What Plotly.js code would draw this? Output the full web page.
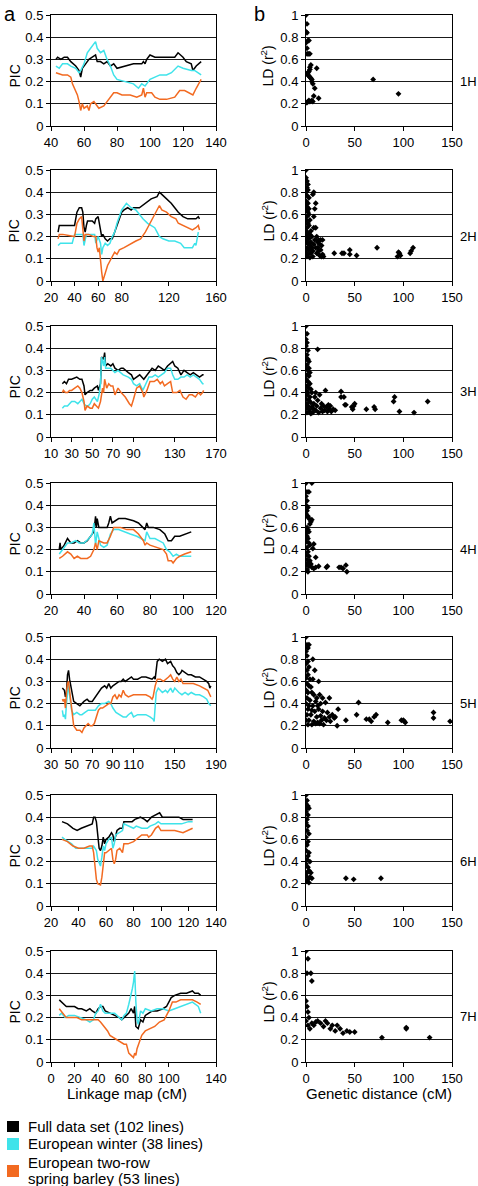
<!DOCTYPE html>
<html><head><meta charset="utf-8">
<script src="https://cdn.plot.ly/plotly-3.0.1.min.js"></script>
<style>html,body{margin:0;padding:0;background:#fff}#chart{width:478px;height:1186px}</style>
</head><body><div id="chart"></div>
<script>
// ---------- DATA: PIC along linkage map (panel a) ----------
const chromosomes = ['1H','2H','3H','4H','5H','6H','7H'];
const seriesNames = ['Full data set (102 lines)','European winter (38 lines)','European two-row','spring barley (53 lines)'];

const full1H_x = [43,44,46,48,50,52,55,57,58,59,61,63,65,67,68,70,72,74,76,78,80,85,90,95,96,97,98,100,103,110,115,117,120,122,125,126,128,131];
const full1H_y = [0.30,0.31,0.30,0.31,0.31,0.29,0.27,0.25,0.22,0.26,0.28,0.30,0.31,0.32,0.29,0.29,0.28,0.29,0.27,0.28,0.26,0.27,0.28,0.28,0.29,0.28,0.30,0.32,0.31,0.31,0.31,0.33,0.31,0.29,0.28,0.25,0.27,0.29];
const win1H_x = [43,45,47,50,52,55,57,58,60,62,64,66,67,68,70,72,74,76,78,80,85,90,93,95,97,100,103,106,110,113,117,120,125,127,129,131];
const win1H_y = [0.27,0.26,0.28,0.28,0.27,0.26,0.24,0.25,0.28,0.33,0.35,0.37,0.38,0.35,0.33,0.34,0.30,0.27,0.23,0.21,0.20,0.19,0.17,0.19,0.18,0.21,0.22,0.23,0.23,0.24,0.27,0.26,0.25,0.25,0.24,0.23];
const spr1H_x = [43,47,50,52,53,55,56,57,58,59,60,62,63,64,66,67,69,72,75,78,80,83,88,92,95,96,97,98,101,103,106,110,115,118,121,124,126,128,131];
const spr1H_y = [0.24,0.23,0.23,0.22,0.19,0.16,0.14,0.11,0.07,0.10,0.08,0.09,0.07,0.10,0.11,0.10,0.08,0.09,0.12,0.15,0.15,0.14,0.14,0.13,0.14,0.17,0.13,0.15,0.15,0.13,0.12,0.12,0.13,0.16,0.16,0.15,0.14,0.17,0.21];

const full2H_x = [26,27,30,38,40,42,44,46,47,48,49,50,51,55,57,58,60,62,63,64,66,68,70,72,74,76,78,80,82,85,88,90,95,100,105,110,112,114,116,118,122,125,128,132,136,140,143,145,146];
const full2H_y = [0.22,0.25,0.25,0.25,0.25,0.31,0.33,0.33,0.31,0.24,0.22,0.25,0.27,0.27,0.26,0.28,0.29,0.23,0.20,0.21,0.19,0.18,0.19,0.19,0.22,0.25,0.28,0.31,0.32,0.33,0.32,0.33,0.33,0.35,0.37,0.38,0.40,0.39,0.38,0.37,0.35,0.33,0.31,0.29,0.28,0.28,0.28,0.29,0.28];
const win2H_x = [26,28,35,38,40,45,47,48,50,55,57,58,60,62,63,64,66,68,70,72,74,76,78,80,84,86,88,92,95,98,102,105,108,110,112,115,120,125,130,133,137,140,142,143,145];
const win2H_y = [0.16,0.17,0.17,0.17,0.21,0.21,0.21,0.16,0.21,0.21,0.21,0.17,0.20,0.17,0.12,0.15,0.17,0.16,0.17,0.20,0.22,0.26,0.29,0.32,0.35,0.34,0.33,0.32,0.30,0.28,0.26,0.25,0.24,0.22,0.20,0.19,0.18,0.18,0.17,0.15,0.15,0.15,0.17,0.16,0.22];
const spr2H_x = [26,27,30,38,40,42,44,46,47,48,49,52,56,58,59,60,61,62,63,64,66,68,70,72,74,76,78,82,85,88,92,96,100,103,106,108,112,114,118,122,126,128,132,136,140,143,145,146];
const spr2H_y = [0.19,0.21,0.21,0.20,0.20,0.26,0.28,0.29,0.24,0.18,0.21,0.21,0.20,0.20,0.15,0.13,0.15,0.08,0.04,0.00,0.04,0.07,0.09,0.11,0.13,0.12,0.14,0.15,0.16,0.17,0.18,0.19,0.22,0.25,0.28,0.30,0.34,0.32,0.31,0.29,0.28,0.26,0.25,0.24,0.23,0.24,0.25,0.23];

const full3H_x = [21,23,25,27,30,35,38,40,42,43,45,48,50,52,55,56,58,59,61,62,63,65,68,70,72,75,78,80,85,88,90,93,96,100,103,106,108,111,114,117,120,123,126,128,130,133,136,139,142,145,148,151,154,157,158];
const full3H_y = [0.24,0.25,0.24,0.26,0.26,0.27,0.26,0.26,0.23,0.19,0.20,0.21,0.21,0.22,0.23,0.21,0.24,0.36,0.35,0.38,0.32,0.33,0.32,0.33,0.31,0.30,0.31,0.31,0.29,0.28,0.26,0.27,0.28,0.26,0.28,0.30,0.31,0.30,0.32,0.31,0.30,0.32,0.33,0.34,0.32,0.31,0.28,0.30,0.29,0.28,0.29,0.28,0.27,0.28,0.28];
const win3H_x = [21,23,26,28,30,33,36,38,40,42,44,46,48,50,52,55,57,58,59,61,62,63,65,68,70,72,75,78,80,85,88,90,93,96,99,102,105,108,111,114,117,120,123,126,128,130,133,136,139,142,145,148,151,154,157,158];
const win3H_y = [0.13,0.14,0.14,0.15,0.16,0.16,0.15,0.16,0.17,0.15,0.14,0.14,0.15,0.17,0.18,0.16,0.20,0.24,0.36,0.32,0.36,0.31,0.31,0.31,0.30,0.29,0.30,0.29,0.28,0.27,0.26,0.24,0.23,0.24,0.21,0.24,0.27,0.27,0.28,0.27,0.28,0.29,0.31,0.31,0.28,0.26,0.26,0.27,0.27,0.28,0.27,0.28,0.27,0.26,0.24,0.24];
const spr3H_x = [21,22,24,26,28,30,33,36,38,40,42,43,45,48,50,52,54,56,58,60,61,62,64,66,68,70,72,75,78,82,86,88,90,93,96,99,100,103,106,110,113,116,118,120,123,126,128,132,135,138,141,144,147,150,153,155,157,158];
const spr3H_y = [0.20,0.21,0.20,0.20,0.21,0.21,0.22,0.23,0.22,0.20,0.16,0.12,0.14,0.13,0.13,0.15,0.14,0.13,0.16,0.22,0.20,0.26,0.22,0.24,0.23,0.23,0.19,0.22,0.20,0.18,0.15,0.14,0.17,0.22,0.23,0.20,0.18,0.21,0.25,0.25,0.26,0.24,0.25,0.23,0.24,0.25,0.20,0.20,0.21,0.18,0.17,0.19,0.19,0.18,0.20,0.19,0.20,0.21];

const full4H_x = [25,25.5,26,28,30,32,34,36,38,40,42,44,46,47,47.5,48,49,52,54,55,56,57,59,61,65,70,73,76,77,78,79,82,86,89,91,93,95,98,101,105];
const full4H_y = [0.20,0.23,0.20,0.22,0.25,0.23,0.23,0.24,0.23,0.23,0.24,0.26,0.28,0.35,0.30,0.34,0.30,0.30,0.30,0.32,0.35,0.32,0.33,0.34,0.34,0.33,0.32,0.30,0.29,0.32,0.30,0.30,0.29,0.27,0.24,0.24,0.26,0.26,0.27,0.28];
const win4H_x = [25,27,30,32,35,37,40,43,45,46,47,48,50,52,54,56,58,61,64,68,72,75,77,78,80,83,86,88,90,92,94,96,98,101,105];
const win4H_y = [0.18,0.20,0.23,0.23,0.24,0.23,0.23,0.25,0.27,0.32,0.22,0.28,0.22,0.21,0.22,0.27,0.29,0.29,0.28,0.27,0.26,0.25,0.24,0.28,0.25,0.25,0.24,0.23,0.20,0.19,0.17,0.18,0.17,0.17,0.17];
const spr4H_x = [25,27,30,32,34,36,38,42,44,46,47,48,49,52,54,56,58,62,66,70,73,76,77,78,80,84,88,90,91,93,94,96,98,101,105];
const spr4H_y = [0.16,0.17,0.19,0.18,0.16,0.17,0.16,0.16,0.17,0.20,0.23,0.20,0.24,0.23,0.23,0.26,0.30,0.30,0.29,0.29,0.27,0.24,0.22,0.23,0.22,0.21,0.20,0.18,0.15,0.15,0.14,0.16,0.17,0.18,0.19];

const full5H_x = [41,43,44,45,46,47,48,49,50,52,55,58,60,62,65,67,70,73,76,79,82,84,86,88,90,93,96,98,100,102,105,108,110,114,118,122,128,130,131,132,133,135,138,141,143,146,148,150,152,154,156,157,160,163,166,170,174,178,181,183,184,185];
const full5H_y = [0.27,0.26,0.23,0.25,0.33,0.35,0.31,0.28,0.25,0.21,0.20,0.19,0.20,0.21,0.22,0.21,0.21,0.23,0.25,0.27,0.28,0.27,0.29,0.27,0.28,0.29,0.30,0.30,0.31,0.30,0.31,0.32,0.31,0.31,0.32,0.32,0.31,0.32,0.31,0.36,0.39,0.40,0.39,0.40,0.38,0.39,0.37,0.36,0.34,0.33,0.34,0.35,0.34,0.33,0.33,0.32,0.32,0.31,0.30,0.29,0.27,0.28];
const win5H_x = [41,42,43,44,45,46,47,48,49,50,52,55,58,60,63,66,70,73,76,79,82,86,88,90,93,96,100,103,105,108,110,114,118,122,126,129,130,131,132,134,136,138,141,143,146,148,150,152,154,157,160,163,166,170,174,178,181,183,185];
const win5H_y = [0.17,0.14,0.15,0.13,0.20,0.25,0.29,0.24,0.21,0.17,0.15,0.16,0.15,0.15,0.16,0.17,0.17,0.17,0.19,0.20,0.20,0.21,0.20,0.18,0.16,0.15,0.14,0.14,0.15,0.16,0.14,0.15,0.15,0.15,0.14,0.13,0.12,0.17,0.25,0.27,0.26,0.25,0.26,0.25,0.27,0.25,0.27,0.26,0.25,0.24,0.25,0.24,0.25,0.24,0.24,0.23,0.22,0.20,0.19];
const spr5H_x = [41,42,43,44,45,46,47,48,49,50,52,55,58,60,62,64,66,68,70,72,74,76,78,80,83,86,88,90,92,94,96,98,100,102,105,110,116,122,126,128,129,131,133,136,139,142,144,146,148,150,152,154,156,158,162,168,174,178,182,184,185];
const spr5H_y = [0.22,0.21,0.22,0.18,0.25,0.29,0.30,0.26,0.21,0.16,0.10,0.08,0.08,0.07,0.09,0.10,0.11,0.10,0.10,0.11,0.14,0.17,0.18,0.18,0.19,0.20,0.20,0.23,0.24,0.22,0.24,0.23,0.26,0.24,0.23,0.24,0.24,0.24,0.23,0.22,0.23,0.28,0.31,0.31,0.30,0.31,0.32,0.33,0.31,0.30,0.32,0.30,0.31,0.29,0.29,0.29,0.28,0.27,0.26,0.24,0.23];

const full6H_x = [28,32,36,39,42,46,50,51,52,53,54,55,56,57,58,59,60,62,64,65,66,68,70,72,73,75,79,81,85,88,90,93,96,99,101,105,110,113,116,120,123];
const full6H_y = [0.38,0.37,0.35,0.34,0.35,0.36,0.37,0.40,0.40,0.38,0.31,0.26,0.25,0.27,0.31,0.28,0.30,0.31,0.33,0.32,0.29,0.34,0.35,0.35,0.38,0.38,0.38,0.39,0.40,0.39,0.38,0.40,0.41,0.42,0.40,0.40,0.40,0.40,0.39,0.39,0.39];
const win6H_x = [28,30,35,38,40,44,48,50,51,53,54,55,56,57,58,59,60,62,64,65,66,67,70,72,73,76,80,82,86,90,92,96,98,100,104,110,115,120,123];
const win6H_y = [0.31,0.30,0.28,0.26,0.26,0.26,0.26,0.26,0.27,0.25,0.21,0.19,0.18,0.22,0.27,0.25,0.28,0.30,0.31,0.26,0.28,0.32,0.33,0.34,0.37,0.36,0.35,0.36,0.35,0.35,0.36,0.37,0.38,0.37,0.37,0.37,0.37,0.38,0.38];
const spr6H_x = [28,32,36,40,44,48,50,51,52,53,54,56,57,58,59,60,62,64,65,66,67,68,70,72,73,76,80,82,86,90,91,93,96,98,100,105,110,116,120,123];
const spr6H_y = [0.30,0.29,0.27,0.26,0.26,0.27,0.27,0.24,0.18,0.12,0.10,0.095,0.13,0.18,0.24,0.24,0.25,0.26,0.21,0.19,0.21,0.25,0.26,0.24,0.28,0.28,0.29,0.30,0.32,0.32,0.31,0.32,0.35,0.36,0.34,0.34,0.34,0.33,0.34,0.35];

const full7H_x = [7,9,11,13,17,20,23,26,30,33,35,38,40,42,44,46,50,54,58,60,62,64,66,68,70,71,72,74,76,78,80,83,86,90,95,98,100,102,105,110,115,120,122,125,127];
const full7H_y = [0.28,0.27,0.26,0.25,0.25,0.25,0.24,0.24,0.23,0.24,0.23,0.22,0.24,0.25,0.25,0.23,0.22,0.21,0.20,0.19,0.20,0.21,0.22,0.24,0.22,0.25,0.16,0.15,0.19,0.18,0.21,0.22,0.23,0.23,0.24,0.25,0.27,0.29,0.30,0.31,0.31,0.32,0.31,0.31,0.30];
const win7H_x = [7,9,12,15,20,25,30,33,36,38,40,42,44,46,50,54,58,60,62,64,66,67,68,69,70,71,72,73,74,76,78,80,85,90,95,100,105,110,115,120,125,127];
const win7H_y = [0.21,0.22,0.20,0.21,0.21,0.20,0.19,0.18,0.19,0.22,0.23,0.26,0.23,0.22,0.22,0.22,0.20,0.19,0.21,0.22,0.26,0.28,0.30,0.33,0.36,0.41,0.27,0.19,0.17,0.23,0.22,0.24,0.23,0.24,0.24,0.23,0.24,0.25,0.26,0.27,0.25,0.22];
const spr7H_x = [7,10,13,17,22,26,30,35,38,40,42,45,48,50,53,56,60,62,64,66,68,70,71,72,73,75,77,80,84,88,92,96,100,103,106,110,115,120,124,127];
const spr7H_y = [0.24,0.22,0.20,0.20,0.20,0.19,0.19,0.19,0.19,0.19,0.18,0.16,0.14,0.12,0.11,0.10,0.09,0.08,0.08,0.04,0.03,0.02,0.04,0.03,0.06,0.09,0.12,0.14,0.15,0.16,0.18,0.19,0.23,0.27,0.27,0.28,0.28,0.28,0.27,0.26];

// ---------- DATA: LD (r^2) vs genetic distance (panel b) ----------
const ld1H_x = [0,1,0,1,0,2,3,1,1,2,3,4,5,4,4,3,2,1,2,3,4,5,6,6,7,11,9,8,13,6,3,2,0,1,4,7,69,95];
const ld1H_y = [1.0,0.92,0.85,0.84,0.75,0.77,0.77,0.70,0.65,0.65,0.65,0.65,0.55,0.53,0.51,0.49,0.48,0.47,0.46,0.45,0.44,0.43,0.42,0.40,0.38,0.52,0.34,0.27,0.25,0.23,0.23,0.22,0.21,0.21,0.22,0.22,0.42,0.29];
const ld2H_x = [0,0,1,2,1,2,0,1,3,0,2,1,0,2,3,1,0,2,3,1,0,2,4,1,3,0,2,4,1,3,0,2,1,4,5,5,6,6,7,7,8,8,7,10,9,8,8,10,11,9,10,11,12,12,13,13,14,14,15,15,16,16,17,17,18,5,4,3,29,37,39,45,45,52,73,94,95,96,97,107,108,110];
const ld2H_y = [1.0,0.93,0.90,0.87,0.84,0.82,0.80,0.77,0.75,0.72,0.70,0.67,0.64,0.62,0.60,0.58,0.55,0.52,0.50,0.48,0.45,0.43,0.42,0.40,0.38,0.36,0.34,0.32,0.30,0.28,0.26,0.24,0.22,0.21,0.25,0.35,0.30,0.40,0.27,0.22,0.33,0.80,0.78,0.70,0.65,0.58,0.48,0.48,0.40,0.37,0.30,0.25,0.35,0.30,0.37,0.27,0.33,0.23,0.37,0.28,0.32,0.22,0.37,0.24,0.22,0.45,0.55,0.65,0.25,0.25,0.25,0.28,0.24,0.23,0.30,0.22,0.26,0.25,0.23,0.25,0.27,0.30];
const ld3H_x = [0,1,0,1,0,2,1,0,2,3,1,0,3,2,4,1,3,0,2,4,1,3,5,0,2,6,1,4,0,3,5,1,2,6,0,3,4,1,5,7,8,8,9,10,10,11,12,12,13,14,15,16,17,18,19,20,21,22,23,24,25,26,28,30,36,36,39,40,41,47,48,49,50,62,70,71,90,91,96,111,125];
const ld3H_y = [1.0,0.93,0.88,0.85,0.82,0.78,0.74,0.70,0.70,0.68,0.65,0.62,0.62,0.60,0.58,0.56,0.55,0.52,0.50,0.48,0.46,0.44,0.43,0.42,0.40,0.40,0.38,0.36,0.34,0.33,0.31,0.30,0.28,0.27,0.26,0.25,0.23,0.22,0.21,0.22,0.25,0.30,0.36,0.24,0.40,0.28,0.79,0.33,0.22,0.38,0.26,0.30,0.23,0.28,0.24,0.42,0.27,0.23,0.29,0.25,0.28,0.23,0.25,0.24,0.41,0.36,0.36,0.29,0.29,0.27,0.25,0.28,0.30,0.25,0.27,0.25,0.32,0.36,0.23,0.22,0.32];
const ld4H_x = [0,6,1,3,0,1,0,2,1,0,2,3,6,5,4,1,2,3,0,1,2,0,3,4,8,1,7,2,0,3,10,1,4,2,5,0,3,6,1,8,13,10,2,21,22,34,36,38,41,42];
const ld4H_y = [1.0,1.0,0.92,0.92,0.88,0.84,0.80,0.78,0.75,0.72,0.70,0.68,0.67,0.65,0.63,0.60,0.58,0.56,0.55,0.52,0.50,0.47,0.46,0.44,0.45,0.42,0.41,0.38,0.35,0.34,0.33,0.31,0.30,0.28,0.27,0.26,0.25,0.24,0.22,0.23,0.25,0.24,0.20,0.24,0.25,0.24,0.24,0.23,0.26,0.20];
const ld5H_x = [0,1,3,2,0,1,7,2,0,3,1,9,2,0,4,7,13,1,3,5,0,2,6,8,11,14,17,24,1,4,10,0,3,7,12,15,20,2,6,9,13,17,22,27,1,5,11,15,19,24,29,0,3,8,12,16,21,25,30,2,6,10,14,18,33,32,41,52,54,62,65,67,70,72,84,98,100,101,102,131,131,148];
const ld5H_y = [1.0,0.93,0.93,0.90,0.87,0.83,0.80,0.78,0.76,0.73,0.70,0.70,0.66,0.63,0.62,0.62,0.60,0.58,0.56,0.55,0.52,0.50,0.50,0.48,0.45,0.48,0.45,0.45,0.45,0.43,0.42,0.40,0.38,0.38,0.38,0.40,0.41,0.35,0.34,0.33,0.35,0.33,0.32,0.30,0.30,0.30,0.28,0.29,0.27,0.28,0.27,0.25,0.25,0.24,0.23,0.25,0.25,0.24,0.28,0.21,0.21,0.22,0.22,0.21,0.35,0.20,0.25,0.30,0.41,0.26,0.26,0.24,0.28,0.30,0.23,0.25,0.25,0.24,0.23,0.32,0.27,0.24];
const ld6H_x = [0,1,0,2,1,3,0,2,1,0,2,1,3,0,2,1,0,3,2,1,4,0,2,3,1,5,0,4,2,6,1,3,41,49,77];
const ld6H_y = [1.0,0.95,0.92,0.90,0.88,0.88,0.85,0.82,0.78,0.75,0.72,0.68,0.65,0.62,0.58,0.55,0.50,0.48,0.45,0.42,0.40,0.38,0.35,0.32,0.30,0.30,0.27,0.26,0.24,0.25,0.22,0.21,0.25,0.24,0.25];
const ld7H_x = [0,2,1,5,6,0,1,2,3,0,2,4,6,8,10,12,15,18,20,22,25,27,30,32,35,38,42,45,50,78,103,103,127];
const ld7H_y = [1.0,0.93,0.80,0.80,0.73,0.55,0.50,0.45,0.40,0.37,0.33,0.30,0.35,0.33,0.36,0.37,0.35,0.32,0.37,0.35,0.30,0.33,0.28,0.33,0.30,0.26,0.28,0.27,0.27,0.22,0.31,0.30,0.22];

// ---------- tick labels ----------
const picTicks = [0,0.1,0.2,0.3,0.4,0.5];
const picTickText = ['0','0.1','0.2','0.3','0.4','0.5'];
const ldTicks = [0,0.2,0.4,0.6,0.8,1];
const ldTickText = ['0','0.2','0.4','0.6','0.8','1'];
const mapRanges = [[40,140],[20,160],[10,170],[20,120],[30,190],[20,140],[0,140]];
const mapTicks = [
  [40,60,80,100,120,140],
  [20,40,60,80,120,160],
  [10,30,50,70,90,130,170],
  [20,40,60,80,100,120],
  [30,50,70,90,110,150,190],
  [20,40,60,80,100,120,140],
  [0,20,40,60,80,100,140]
];
const distTicks = [0,50,100,150];

const picData = [
  [full1H_x,full1H_y,win1H_x,win1H_y,spr1H_x,spr1H_y],
  [full2H_x,full2H_y,win2H_x,win2H_y,spr2H_x,spr2H_y],
  [full3H_x,full3H_y,win3H_x,win3H_y,spr3H_x,spr3H_y],
  [full4H_x,full4H_y,win4H_x,win4H_y,spr4H_x,spr4H_y],
  [full5H_x,full5H_y,win5H_x,win5H_y,spr5H_x,spr5H_y],
  [full6H_x,full6H_y,win6H_x,win6H_y,spr6H_x,spr6H_y],
  [full7H_x,full7H_y,win7H_x,win7H_y,spr7H_x,spr7H_y]
];
const ldData = [[ld1H_x,ld1H_y],[ld2H_x,ld2H_y],[ld3H_x,ld3H_y],[ld4H_x,ld4H_y],[ld5H_x,ld5H_y],[ld6H_x,ld6H_y],[ld7H_x,ld7H_y]];

// ---------- build ----------
const W = 478, H = 1186;
const rowTops = [15,170,326,483,637,795,951];
const rowH = 111;
const LX = [51,216], RX = [306,452];
const colFull = '#000000', colWin = '#3fe3ea', colSpr = '#f26a21';
const FONT = '"Liberation Sans", Arial, sans-serif';
const px = x => x / W, py = y => 1 - y / H;

const traces = [];
const layout = {
  width: W, height: H, margin: {l:0,r:0,t:0,b:0},
  paper_bgcolor: '#fff', plot_bgcolor: '#fff', showlegend: false,
  font: {family: FONT, color: '#000', size: 13},
  annotations: [], shapes: []
};

function axisCommon() {
  return {showline:true, mirror:true, linecolor:'#000', linewidth:1,
    ticks:'outside', ticklen:4, tickwidth:1, tickcolor:'#000',
    zeroline:false, tickangle:0, tickfont:{family:FONT,size:13,color:'#000'}, fixedrange:true};
}

for (let i = 0; i < 7; i++) {
  const nL = i + 1, nR = i + 8;
  const top = rowTops[i], bot = top + rowH;
  const yd = [py(bot), py(top)];
  const d = picData[i];
  const cols = [colFull, colWin, colSpr];
  for (let s = 0; s < 3; s++) {
    traces.push({x: d[2*s], y: d[2*s+1], type:'scatter', mode:'lines',
      line:{color: cols[s], width: 1.5}, xaxis:'x'+nL, yaxis:'y'+nL, hoverinfo:'skip'});
  }
  traces.push({x: ldData[i][0], y: ldData[i][1], type:'scatter', mode:'markers',
    marker:{symbol:'diamond', size:4.5, color:'#000'}, xaxis:'x'+nR, yaxis:'y'+nR, hoverinfo:'skip'});

  layout['xaxis'+nL] = Object.assign(axisCommon(), {domain:[px(LX[0]),px(LX[1])], anchor:'y'+nL,
    range: mapRanges[i], tickvals: mapTicks[i], ticktext: mapTicks[i].map(String), showgrid:false});
  layout['yaxis'+nL] = Object.assign(axisCommon(), {domain: yd, anchor:'x'+nL, range:[0,0.5],
    tickvals: picTicks, ticktext: picTickText, showgrid:true, gridcolor:'#1a1a1a', gridwidth:1});
  layout['xaxis'+nR] = Object.assign(axisCommon(), {domain:[px(RX[0]),px(RX[1])], anchor:'y'+nR,
    range:[0,150], tickvals: distTicks, ticktext: distTicks.map(String), showgrid:false});
  layout['yaxis'+nR] = Object.assign(axisCommon(), {domain: yd, anchor:'x'+nR, range:[0,1],
    tickvals: ldTicks, ticktext: ldTickText, showgrid:true, gridcolor:'#1a1a1a', gridwidth:1});

  const mid = (top + bot) / 2;
  layout.annotations.push({xref:'paper', yref:'paper', x:px(14), y:py(mid+6), text:'PIC', textangle:-90,
    showarrow:false, xanchor:'center', yanchor:'middle', font:{family:FONT,size:14,color:'#000'}});
  layout.annotations.push({xref:'paper', yref:'paper', x:px(268), y:py(mid-4), text:'LD (r<sup>2</sup>)', textangle:-90,
    showarrow:false, xanchor:'center', yanchor:'middle', font:{family:FONT,size:14,color:'#000'}});
  layout.annotations.push({xref:'paper', yref:'paper', x:px(458), y:py(top+66), text: chromosomes[i],
    showarrow:false, xanchor:'left', yanchor:'middle', font:{family:FONT,size:13,color:'#000'}});
}

// panel letters
layout.annotations.push({xref:'paper', yref:'paper', x:px(2), y:py(14), text:'a', showarrow:false,
  xanchor:'left', yanchor:'middle', font:{family:FONT,size:20,color:'#000'}});
layout.annotations.push({xref:'paper', yref:'paper', x:px(252), y:py(14), text:'b', showarrow:false,
  xanchor:'left', yanchor:'middle', font:{family:FONT,size:20,color:'#000'}});
// axis titles
layout.annotations.push({xref:'paper', yref:'paper', x:px(127), y:py(1093), text:'Linkage map (cM)', showarrow:false,
  xanchor:'center', yanchor:'middle', font:{family:FONT,size:15,color:'#000'}});
layout.annotations.push({xref:'paper', yref:'paper', x:px(379), y:py(1093), text:'Genetic distance (cM)', showarrow:false,
  xanchor:'center', yanchor:'middle', font:{family:FONT,size:15,color:'#000'}});

// legend
const legendItems = [
  {color: colFull, y0:1121, y1:1132},
  {color: colWin, y0:1138, y1:1150},
  {color: colSpr, y0:1165, y1:1177}
];
legendItems.forEach(it => layout.shapes.push({type:'rect', xref:'paper', yref:'paper',
  x0:px(7), x1:px(19), y0:py(it.y1), y1:py(it.y0), fillcolor: it.color, line:{width:0}}));
const legendY = [1126, 1143, 1162, 1178];
seriesNames.forEach((t, k) => layout.annotations.push({xref:'paper', yref:'paper', x:px(26), y:py(legendY[k]), text:t,
  showarrow:false, xanchor:'left', yanchor:'middle', font:{family:FONT,size:15,color:'#000'}}));

Plotly.newPlot('chart', traces, layout, {staticPlot:true, displayModeBar:false});
</script>
</body></html>
